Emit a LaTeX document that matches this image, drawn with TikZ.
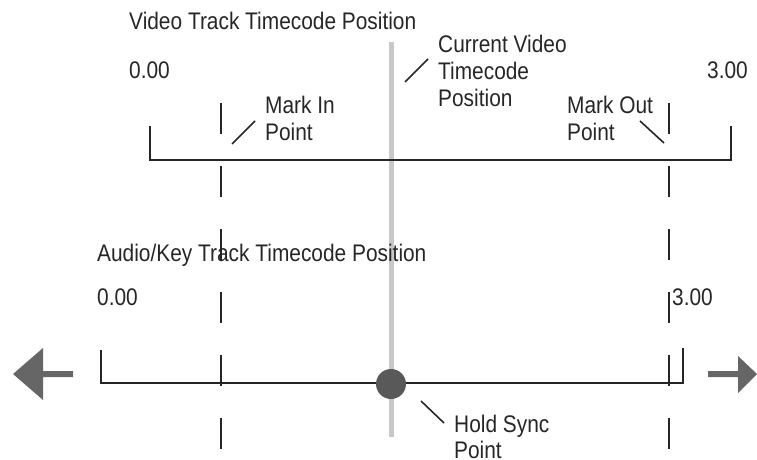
\documentclass[tikz,border=0pt]{standalone}
\usepackage{fontspec}
\setmainfont{Liberation Sans}[FakeStretch=0.87]
\definecolor{inkgray}{HTML}{262626}
\definecolor{bargray}{HTML}{C8C8C8}
\definecolor{dotgray}{HTML}{595959}
\definecolor{arrowgray}{HTML}{666666}

\begin{document}
\begin{tikzpicture}[x=1pt,y=-1pt]

% Define half height of the hold sync dot
\def\dotradius{15}
% Define styles
\tikzset{lbl/.style={inner sep=0pt, font=\fontsize{24}{27}\selectfont,
        text=inkgray, align=left},
        track/.style={line width=2pt, draw=inkgray},
        markline/.style={line width=2pt, draw=inkgray, dash pattern=on 31pt off 32pt},
        leader/.style={line width=1.6pt, draw=inkgray}
        }

\useasboundingbox (0,0) rectangle (757,460);

% Current video timecode position (gray bar)
\draw[line width=5pt, bargray] (391,42) -- (391,437);

% Mark in / mark out lines
\draw[markline] (221,103) -- (221,453); % Mark in
\draw[markline] (669,103) -- (669,453); % Mark out

% Video track bracket
\coordinate (vidA) at (150,126);
\coordinate (vidB) at (731,126);
\draw[track] (vidA) -- (vidA |- 0,160) -- (vidB |- 0,160) -- (vidB);

% Audio/key track bracket
\coordinate (audA) at (101,350);
\coordinate (audB) at (683,348);
\draw[track] (audA) -- (audA |- 0,383) -- (audB |- 0,383) -- (audB);

% Hold sync dot
\node[circle, fill=dotgray, minimum size=2*\dotradius pt, inner sep=0pt] (hold) at (391,384) {};

% Arrows at both ends
\fill[arrowgray] (13,374) -- (43,348) -- (43,371) -- (73,371) -- (73,377) -- (43,377) -- (43,400) -- cycle;
\fill[arrowgray] (708,371) -- (738,371) -- (738,356) -- (757,374) -- (738,393) -- (738,377) -- (708,377) -- cycle;

% Labels
\node[lbl, anchor=base west] (vidtitle) at (129,30) {Video Track Timecode Position};
\node[lbl, anchor=base west] (vidzero) at (129,78) {0.00};
\node[lbl, anchor=base east] (vidthree) at (748,78) {3.00};
\node[lbl, anchor=north west] (curpos) at (438,35) {Current Video\\Timecode\\Position};
\node[lbl, anchor=north west] (markin) at (265,96) {Mark In\\Point};
\node[lbl, anchor=north west] (markout) at (567,96) {Mark Out\\Point};
\node[lbl, anchor=base west] (audtitle) at (97,261) {Audio/Key Track Timecode Position};
\node[lbl, anchor=base west] (audzero) at (97,305) {0.00};
\node[lbl, anchor=base west] (audthree) at (672,305) {3.00};
\node[lbl, anchor=north west, font=\fontsize{24}{25.5}\selectfont] (holdtxt) at (454,415) {Hold Sync\\Point};

% Leader lines
\draw[leader] (405,82) -- (428,59); % to current
\draw[leader] (232,144) -- (255,121); % to mark in
\draw[leader] (640,121) -- (664,143); % to mark out
\draw[leader] (421,401) -- (444,423); % to hold sync

\end{tikzpicture}
\end{document}
